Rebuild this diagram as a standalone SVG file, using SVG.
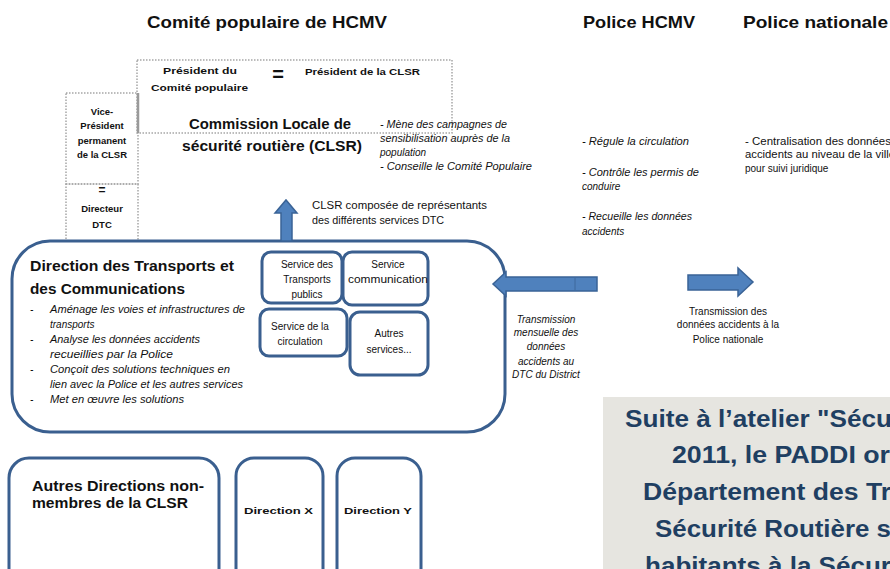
<svg xmlns="http://www.w3.org/2000/svg" width="890" height="569" viewBox="0 0 890 569">
<style>
text{font-family:"Liberation Sans",Arial,sans-serif;fill:#111}
.t{font-size:17px;font-weight:bold}
.b9{font-size:9.5px;font-weight:bold}
.big{font-size:15px;font-weight:bold}
.it{font-size:10px;font-style:italic}
.n{font-size:10px}
.c{text-anchor:middle}
.dot{fill:none;stroke:#a6a6a6;stroke-width:1.5;stroke-dasharray:1.5 1.5}
.box{fill:#fff;stroke:#3a5f8f;stroke-width:3}
.arr{fill:#4f81bd;stroke:#3a6396;stroke-width:1.5}
.note{font-size:23px;font-weight:bold;fill:#1f3f62}
</style>

<g id="titles">
<text class="t" x="147" y="28" textLength="240" lengthAdjust="spacingAndGlyphs">Comité populaire de HCMV</text>
<text class="t" x="583" y="28" textLength="112" lengthAdjust="spacingAndGlyphs">Police HCMV</text>
<text class="t" x="743" y="28" textLength="145" lengthAdjust="spacingAndGlyphs">Police nationale</text>
</g>

<g id="president">
<rect class="dot" x="137" y="60" width="315" height="73"/>
<text class="b9" x="163" y="74" textLength="74" lengthAdjust="spacingAndGlyphs">Président du</text>
<text class="b9" x="151" y="91" textLength="97" lengthAdjust="spacingAndGlyphs">Comité populaire</text>
<text x="278" y="81" class="c" style="font-size:20px;font-weight:bold">=</text>
<text class="b9" x="305" y="75" textLength="115" lengthAdjust="spacingAndGlyphs">Président de la CLSR</text>
</g>

<g id="vice-president">
<rect class="dot" x="66" y="93" width="72" height="91"/>
<line x1="138" y1="93" x2="138" y2="133" stroke="#9a9a9a" stroke-width="2.5"/>
<text class="b9 c" x="102" y="115">Vice-</text>
<text class="b9 c" x="102" y="129">Président</text>
<text class="b9 c" x="102" y="144">permanent</text>
<text class="b9 c" x="102" y="158">de la CLSR</text>
</g>

<g id="directeur-dtc">
<rect class="dot" x="66" y="184" width="72" height="68"/>
<text x="102" y="194" class="c" style="font-size:12px;font-weight:bold">=</text>
<text class="b9 c" x="102" y="212">Directeur</text>
<text class="b9 c" x="102" y="228">DTC</text>
</g>

<g id="clsr">
<text class="big c" x="270" y="129" textLength="162" lengthAdjust="spacingAndGlyphs">Commission  Locale de</text>
<text class="big c" x="272" y="151" textLength="180" lengthAdjust="spacingAndGlyphs">sécurité routière  (CLSR)</text>
<text class="it" x="380" y="128" textLength="127" lengthAdjust="spacingAndGlyphs">- Mène des campagnes de</text>
<text class="it" x="380" y="142" textLength="130" lengthAdjust="spacingAndGlyphs">sensibilisation auprès de la</text>
<text class="it" x="380" y="156">population</text>
<text class="it" x="380" y="170" textLength="152" lengthAdjust="spacingAndGlyphs">- Conseille le Comité Populaire</text>
<text class="n" x="312" y="209" textLength="175" lengthAdjust="spacingAndGlyphs">CLSR composée de représentants</text>
<text class="n" x="312" y="224" textLength="132" lengthAdjust="spacingAndGlyphs">des différents services DTC</text>
</g>

<g id="police-hcmv">
<text class="it" x="582" y="145" textLength="107" lengthAdjust="spacingAndGlyphs">- Régule la circulation</text>
<text class="it" x="582" y="176" textLength="117" lengthAdjust="spacingAndGlyphs">- Contrôle les permis de</text>
<text class="it" x="582" y="190">conduire</text>
<text class="it" x="582" y="220" textLength="110" lengthAdjust="spacingAndGlyphs">- Recueille les données</text>
<text class="it" x="582" y="235">accidents</text>
</g>

<g id="police-nationale">
<text class="n" x="745" y="145" textLength="146" lengthAdjust="spacingAndGlyphs">- Centralisation des données</text>
<text class="n" x="745" y="158" textLength="150" lengthAdjust="spacingAndGlyphs">accidents  au niveau de la ville</text>
<text class="n" x="745" y="172">pour suivi juridique</text>
</g>

<g id="dtc">
<rect class="box" x="12" y="241" width="493" height="191" rx="38"/>
<text class="big" x="30" y="271" textLength="204" lengthAdjust="spacingAndGlyphs">Direction des Transports et</text>
<text class="big" x="30" y="294" textLength="155" lengthAdjust="spacingAndGlyphs">des Communications</text>
<g class="it">
<text x="30" y="313">-</text><text x="50" y="313" textLength="195" lengthAdjust="spacingAndGlyphs">Aménage les voies et infrastructures de</text>
<text x="50" y="328">transports</text>
<text x="30" y="343">-</text><text x="50" y="343" textLength="150" lengthAdjust="spacingAndGlyphs">Analyse les données accidents</text>
<text x="50" y="358" textLength="123" lengthAdjust="spacingAndGlyphs">recueillies par la Police</text>
<text x="30" y="373">-</text><text x="50" y="373" textLength="180" lengthAdjust="spacingAndGlyphs">Conçoit des solutions techniques en</text>
<text x="50" y="388" textLength="193" lengthAdjust="spacingAndGlyphs">lien avec la Police et les autres services</text>
<text x="30" y="403">-</text><text x="50" y="403" textLength="134" lengthAdjust="spacingAndGlyphs">Met en œuvre les solutions</text>
</g>
</g>

<g id="service-transports-publics">
<rect class="box" x="262" y="252" width="80" height="51" rx="9"/>
<text class="n c" x="307" y="268">Service des</text>
<text class="n c" x="307" y="283">Transports</text>
<text class="n c" x="307" y="298">publics</text>
</g>
<g id="service-communication">
<rect class="box" x="343" y="252" width="85" height="53" rx="9"/>
<text class="n c" x="388" y="268">Service</text>
<text class="n c" x="388" y="283" textLength="80" lengthAdjust="spacingAndGlyphs">communication</text>
</g>
<g id="service-circulation">
<rect class="box" x="260" y="309" width="87" height="47" rx="9"/>
<text class="n c" x="300" y="330">Service de la</text>
<text class="n c" x="300" y="345">circulation</text>
</g>
<g id="autres-services">
<rect class="box" x="350" y="312" width="78" height="63" rx="10"/>
<text class="n c" x="389" y="337">Autres</text>
<text class="n c" x="389" y="353">services...</text>
</g>

<g id="connectors">
<path class="arr" d="M281,241 V213 H275 L286,200 L297,213 H292 V241 Z"/>
<path class="arr" d="M597,277 H506 V272 L493,284 L506,296 V291 H597 Z"/>
<line x1="575" y1="278" x2="575" y2="290" stroke="#3a6396" stroke-width="0.8"/>
<path class="arr" d="M688,275 H738 V268 L753,282 L738,296 V290 H688 Z"/>
<g class="it">
<text class="c" x="546" y="323">Transmission</text>
<text class="c" x="546" y="336">mensuelle des</text>
<text class="c" x="546" y="350">données</text>
<text class="c" x="546" y="365">accidents au</text>
<text class="c" x="546" y="378">DTC du District</text>
</g>
<text class="n c" x="728" y="315">Transmission des</text>
<text class="n c" x="728" y="328">données accidents à la</text>
<text class="n c" x="728" y="343">Police nationale</text>
</g>

<g id="autres-directions">
<rect class="box" x="9" y="458" width="210" height="140" rx="20"/>
<text x="32" y="491" style="font-size:14px;font-weight:bold" textLength="172" lengthAdjust="spacingAndGlyphs">Autres Directions non-</text>
<text x="32" y="508" style="font-size:14px;font-weight:bold" textLength="156" lengthAdjust="spacingAndGlyphs">membres de la CLSR</text>
</g>
<g id="direction-x">
<rect class="box" x="236" y="458" width="87" height="140" rx="18"/>
<text class="b9" x="244" y="514" textLength="69" lengthAdjust="spacingAndGlyphs">Direction X</text>
</g>
<g id="direction-y">
<rect class="box" x="337" y="458" width="84" height="140" rx="18"/>
<text class="b9" x="344" y="514" textLength="68" lengthAdjust="spacingAndGlyphs">Direction Y</text>
</g>

<g id="note">
<rect x="603" y="397" width="300" height="180" fill="#e6e5e0"/>
<text class="note" x="625" y="427" textLength="267" lengthAdjust="spacingAndGlyphs">Suite à l’atelier "Sécu</text>
<text class="note" x="672" y="463" textLength="218" lengthAdjust="spacingAndGlyphs">2011, le PADDI or</text>
<text class="note" x="643" y="500" textLength="248" lengthAdjust="spacingAndGlyphs">Département des Tr</text>
<text class="note" x="655" y="537" textLength="236" lengthAdjust="spacingAndGlyphs">Sécurité Routière s</text>
<text class="note" x="645" y="574" textLength="246" lengthAdjust="spacingAndGlyphs">habitants à la Sécur</text>
</g>
</svg>
